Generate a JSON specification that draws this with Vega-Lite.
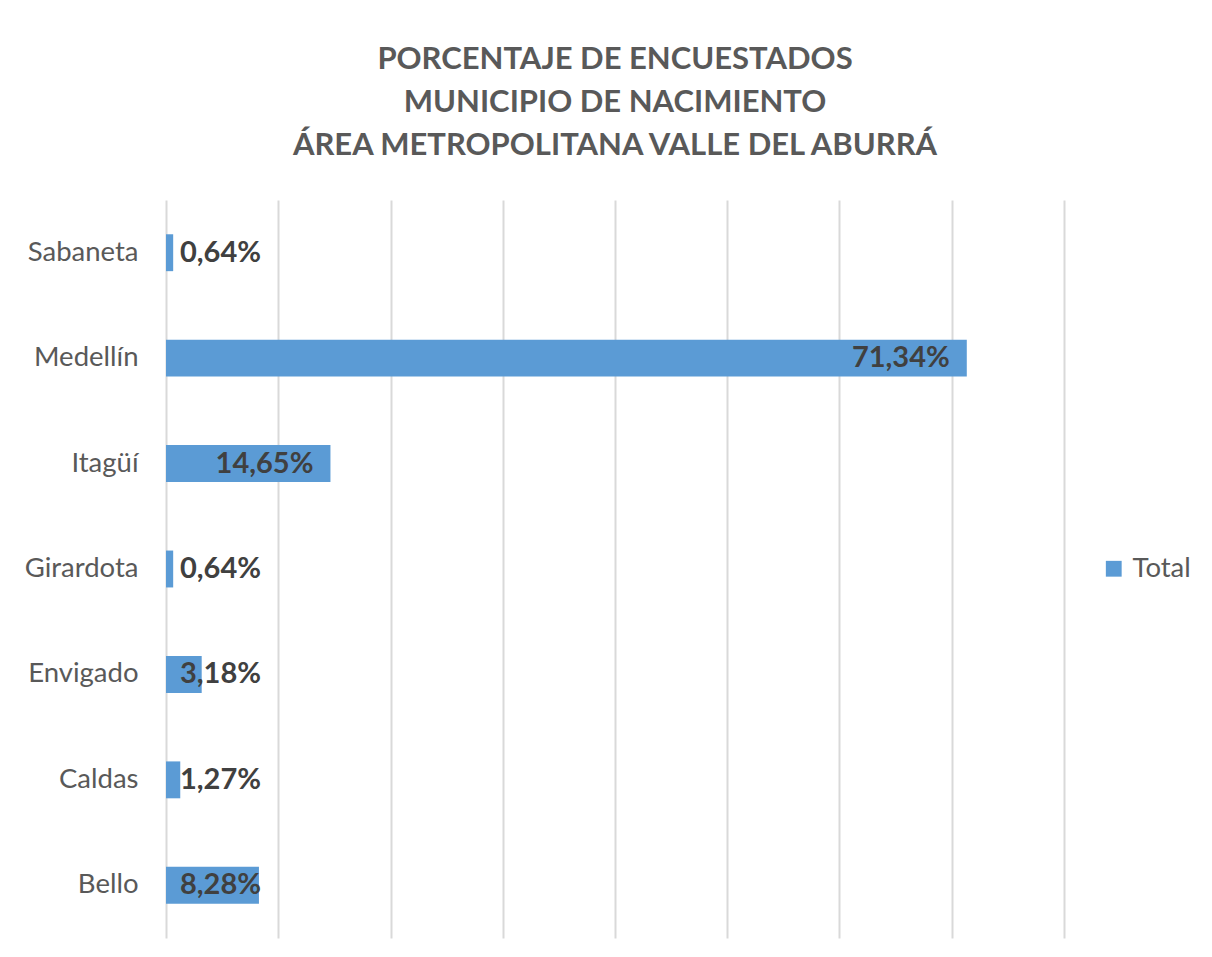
{
  "$schema": "https://vega.github.io/schema/vega-lite/v6.json",
  "width": 898,
  "height": 738,
  "autosize": {"type": "none"},
  "padding": {"left": 166, "top": 200, "right": 148, "bottom": 19},
  "background": "white",
  "config": {
    "locale": {"number": {"decimal": ",", "thousands": ".", "grouping": [3], "currency": ["$", ""]}},
    "view": {"stroke": null},
    "font": "Lato"
  },
  "title": {
    "text": ["PORCENTAJE DE ENCUESTADOS", "MUNICIPIO DE NACIMIENTO", "ÁREA METROPOLITANA VALLE DEL ABURRÁ"],
    "fontSize": 31,
    "fontWeight": "bold",
    "color": "#595959",
    "lineHeight": 43,
    "anchor": "middle",
    "offset": 38,
    "font": "Lato"
  },
  "data": {
    "values": [
      {"municipio": "Sabaneta", "valor": 0.0064},
      {"municipio": "Medellín", "valor": 0.7134},
      {"municipio": "Itagüí", "valor": 0.1465},
      {"municipio": "Girardota", "valor": 0.0064},
      {"municipio": "Envigado", "valor": 0.0318},
      {"municipio": "Caldas", "valor": 0.0127},
      {"municipio": "Bello", "valor": 0.0828}
    ]
  },
  "encoding": {
    "y": {
      "field": "municipio",
      "type": "nominal",
      "sort": "descending",
      "title": null,
      "scale": {"paddingInner": 0.65, "paddingOuter": 0.325},
      "axis": {
        "domain": false,
        "ticks": false,
        "labelFontSize": 27.5,
        "labelColor": "#595959",
        "labelPadding": 28,
        "labelFont": "Lato"
      }
    }
  },
  "layer": [
    {
      "mark": {"type": "bar", "color": "#5B9BD5"},
      "encoding": {
        "x": {
          "field": "valor",
          "type": "quantitative",
          "title": null,
          "scale": {"domain": [0, 0.8], "nice": false},
          "axis": {
            "values": [0, 0.1, 0.2, 0.3, 0.4, 0.5, 0.6, 0.7, 0.8],
            "labels": false,
            "ticks": false,
            "domain": false,
            "grid": true,
            "gridColor": "#d9d9d9",
            "gridWidth": 2
          }
        },
        "color": {
          "datum": "Total",
          "type": "nominal",
          "scale": {"range": ["#5B9BD5"]},
          "legend": {
            "title": null,
            "orient": "none",
            "legendX": 934,
            "legendY": 355,
            "symbolType": "square",
            "symbolSize": 250,
            "symbolStrokeWidth": 0,
            "labelFontSize": 27.5,
            "labelColor": "#595959",
            "labelFont": "Lato",
            "labelOffset": 5
          }
        }
      }
    },
    {
      "transform": [{"filter": "datum.valor >= 0.1"}],
      "mark": {"type": "text", "align": "right", "baseline": "middle", "dx": -17, "fontSize": 29, "fontWeight": "bold", "color": "#404040", "font": "Lato"},
      "encoding": {
        "x": {"field": "valor", "type": "quantitative"},
        "text": {"field": "valor", "type": "quantitative", "format": ".2%"}
      }
    },
    {
      "transform": [{"filter": "datum.valor < 0.1"}],
      "mark": {"type": "text", "align": "left", "baseline": "middle", "dx": 14, "fontSize": 29, "fontWeight": "bold", "color": "#404040", "font": "Lato"},
      "encoding": {
        "x": {"datum": 0, "type": "quantitative"},
        "text": {"field": "valor", "type": "quantitative", "format": ".2%"}
      }
    }
  ]
}
